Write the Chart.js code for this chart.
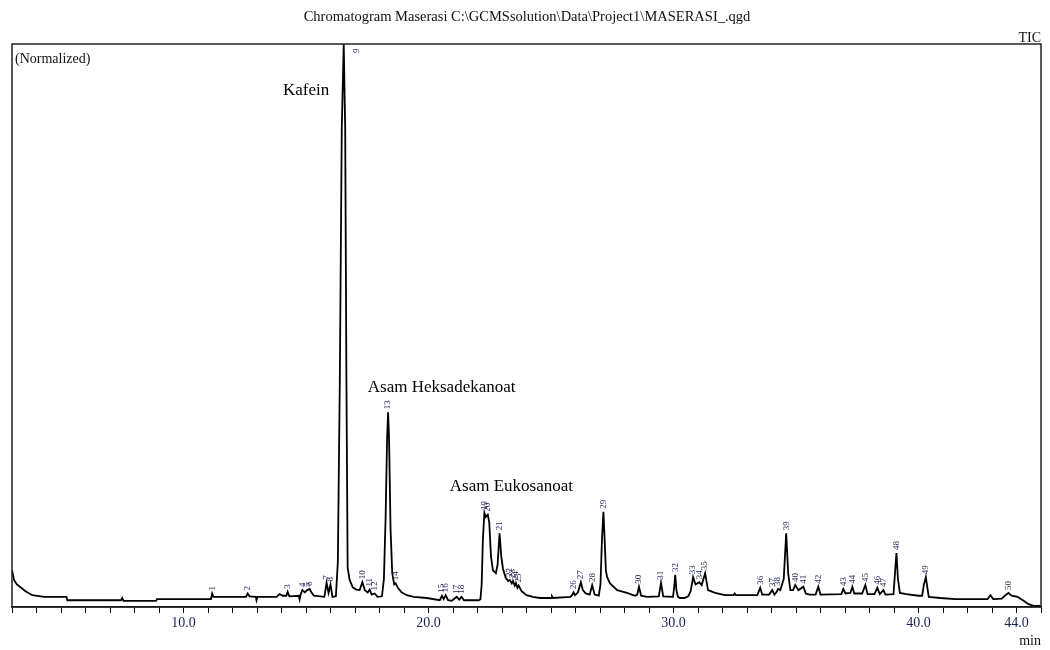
<!DOCTYPE html>
<html>
<head>
<meta charset="utf-8">
<script src="https://cdn.jsdelivr.net/npm/chart.js@4.4.0/dist/chart.umd.min.js"></script>
<style>
  html, body { margin: 0; padding: 0; background: #fff; }
  #wrap { width: 1050px; height: 650px; }
</style>
</head>
<body>
<div id="wrap"><canvas id="tic" width="1050" height="650"></canvas></div>
<script>
// Chromatogram data (retention time in min, normalized intensity in %)
const retentionTime = [
  3.00, 3.08, 3.20, 3.35, 3.55, 3.83, 4.32, 5.22, 5.26, 6.57, 7.45, 7.50, 7.55, 8.88, 8.92,
  11.12, 11.17, 11.22, 12.55, 12.62, 12.70, 12.95, 12.98, 13.02, 13.80, 13.92, 14.05, 14.20,
  14.25, 14.32, 14.70, 14.74, 14.78, 14.85, 14.95, 15.05, 15.15, 15.22, 15.32, 15.75, 15.84,
  15.92, 16.00, 16.08, 16.22, 16.30, 16.38, 16.46, 16.54, 16.60, 16.65, 16.70, 16.78, 16.91,
  17.05, 17.19, 17.30, 17.40, 17.52, 17.60, 17.68, 17.80, 17.92, 18.10, 18.18, 18.25, 18.31,
  18.35, 18.39, 18.45, 18.52, 18.60, 18.66, 18.75, 18.90, 19.11, 19.40, 19.93, 20.46, 20.55,
  20.62, 20.70, 20.80, 20.95, 21.15, 21.25, 21.35, 21.45, 22.05, 22.12, 22.17, 22.22, 22.28,
  22.34, 22.42, 22.48, 22.55, 22.63, 22.75, 22.82, 22.90, 22.97, 23.04, 23.15, 23.25, 23.32,
  23.40, 23.45, 23.52, 23.57, 23.63, 23.68, 23.80, 24.00, 24.26, 24.55, 25.00, 25.04, 25.08,
  25.80, 25.86, 25.92, 25.98, 26.10, 26.22, 26.30, 26.42, 26.58, 26.68, 26.78, 26.95, 27.02,
  27.08, 27.14, 27.19, 27.24, 27.29, 27.41, 27.70, 28.10, 28.43, 28.52, 28.59, 28.68, 28.92,
  29.40, 29.49, 29.58, 29.98, 30.04, 30.07, 30.12, 30.18, 30.27, 30.45, 30.60, 30.70, 30.80,
  30.90, 31.05, 31.15, 31.29, 31.41, 31.70, 32.10, 32.45, 32.50, 32.55, 33.42, 33.54, 33.62,
  33.90, 34.03, 34.12, 34.20, 34.27, 34.36, 34.50, 34.60, 34.68, 34.77, 34.88, 34.97, 35.10,
  35.30, 35.40, 35.55, 35.80, 35.91, 36.00, 36.85, 36.93, 37.02, 37.22, 37.30, 37.38, 37.70,
  37.83, 37.92, 38.20, 38.32, 38.42, 38.57, 38.65, 38.98, 39.04, 39.10, 39.16, 39.24, 39.50,
  40.00, 40.15, 40.22, 40.30, 40.36, 40.42, 40.89, 41.50, 42.82, 42.94, 43.05, 43.40, 43.55,
  43.67, 43.80, 44.04, 44.29, 44.49, 44.70, 45.00
];
const intensity = [
  6.6, 4.8, 4.0, 3.5, 2.8, 2.1, 1.8, 1.8, 1.2, 1.2, 1.2, 1.6, 1.1, 1.1, 1.4,
  1.4, 2.4, 1.8, 1.8, 2.4, 1.9, 1.8, 1.2, 1.8, 1.8, 2.3, 2.0, 2.0,
  2.7, 1.9, 2.0, 1.3, 2.2, 3.0, 2.6, 3.0, 3.2, 2.6, 2.0, 1.8, 4.3,
  2.5, 4.0, 1.8, 1.9, 8.0, 40, 85, 100, 85, 40, 7.0, 4.8, 3.5,
  3.1, 3.0, 4.4, 3.0, 2.6, 3.1, 2.2, 2.4, 1.8, 1.9, 5.0, 16, 30,
  34.6, 30, 14, 6.0, 4.0, 4.2, 3.4, 2.6, 2.1, 1.8, 1.6, 1.2, 2.0,
  1.4, 2.1, 1.2, 1.1, 1.8, 1.3, 1.8, 1.2, 1.2, 1.4, 4.0, 12, 16.7,
  16.0, 16.4, 15.0, 9.0, 6.5, 6.0, 7.5, 13.1, 9.0, 6.8, 5.2, 4.6, 4.8,
  4.2, 4.6, 3.8, 4.2, 3.4, 3.8, 2.8, 2.1, 1.8, 1.6, 1.6, 1.9, 1.6,
  1.8, 2.1, 2.6, 2.1, 2.6, 4.4, 3.0, 2.4, 2.2, 3.9, 2.2, 2.0, 4.0,
  12, 16.9, 12, 6.5, 5.3, 4.2, 3.0, 2.5, 2.0, 2.2, 3.6, 2.0, 1.8,
  1.9, 4.3, 1.9, 1.8, 4.0, 5.7, 3.0, 1.8, 1.6, 1.6, 1.9, 2.8, 5.3,
  4.0, 4.4, 3.9, 6.0, 3.0, 2.5, 2.1, 2.1, 2.4, 2.1, 2.1, 3.4, 2.2,
  2.2, 3.0, 2.2, 2.6, 3.2, 3.0, 5.0, 13.1, 6.0, 3.0, 3.0, 3.9, 3.0,
  3.6, 2.4, 2.2, 2.2, 3.6, 2.2, 2.3, 3.2, 2.4, 2.5, 3.6, 2.4, 2.4,
  3.9, 2.3, 2.3, 3.4, 2.3, 3.0, 2.2, 2.3, 6.0, 9.6, 5.0, 2.5, 2.3,
  2.0, 2.0, 4.0, 5.3, 3.5, 1.8, 1.6, 1.4, 1.4, 2.1, 1.4, 1.5, 2.1,
  2.5, 2.0, 1.8, 1.1, 0.5, 0.2, 0.2
];

// Peak numbers and the retention times they sit on
const peakNumbers = [
  '1', '2', '3', '4', '5', '6', '7', '8', '9', '10', '11', '12', '13', '14', '15', '16', '17',
  '18', '19', '20', '21', '22', '23', '24', '25', '26', '27', '28', '29', '30', '31', '32', '33',
  '34', '35', '36', '37', '38', '39', '40', '41', '42', '43', '44', '45', '46', '47', '48', '49', '50'
];
const peakTimes = [
  11.17, 12.62, 14.25, 14.85, 15.05, 15.15, 15.84, 16.00, 16.54, 17.30, 17.60, 17.80, 18.35,
  18.66, 20.55, 20.70, 21.15, 21.35, 22.28, 22.42, 22.90, 23.32, 23.45, 23.57, 23.68, 25.92,
  26.22, 26.68, 27.14, 28.59, 29.49, 30.07, 30.80, 31.05, 31.29, 33.54, 34.03, 34.27, 34.60,
  34.97, 35.30, 35.91, 36.93, 37.30, 37.83, 38.32, 38.57, 39.10, 40.30, 43.67
];

// Named compounds
const compoundNames = ['Kafein', 'Asam Heksadekanoat', 'Asam Eukosanoat'];
const compoundTimes = [15.95, 17.52, 20.87];
const compoundLevels = [91, 38.2, 20.6];

const labeledTicks = [10, 20, 30, 40, 44];
const chartTitle = 'Chromatogram Maserasi C:\\GCMSsolution\\Data\\Project1\\MASERASI_.qgd';

const serif = '"Liberation Serif", "Times New Roman", serif';

// Draws frame, header texts, peak numbers and compound names
const decorPlugin = {
  id: 'decor',
  afterDraw(chart) {
    const { ctx, chartArea: a, scales: { x, y } } = chart;
    ctx.save();

    ctx.strokeStyle = '#222';
    ctx.lineWidth = 1.5;
    ctx.strokeRect(a.left, a.top, a.right - a.left, a.bottom - a.top);

    ctx.fillStyle = '#111';
    ctx.font = '14.5px ' + serif;
    ctx.textBaseline = 'alphabetic';
    ctx.textAlign = 'center';
    ctx.fillText(chartTitle, 527, 21);
    ctx.textAlign = 'right';
    ctx.font = '14px ' + serif;
    ctx.fillText('TIC', a.right, a.top - 2);
    ctx.textAlign = 'left';
    ctx.fillText('(Normalized)', a.left + 3, a.top + 19);

    // compound names
    ctx.font = '17px ' + serif;
    ctx.fillStyle = '#000';
    compoundNames.forEach((name, i) => {
      ctx.textAlign = i === 0 ? 'right' : 'left';
      ctx.fillText(name, x.getPixelForValue(compoundTimes[i]), y.getPixelForValue(compoundLevels[i]));
    });

    // peak numbers, rotated
    ctx.beginPath();
    ctx.rect(a.left, a.top, a.right - a.left, a.bottom - a.top);
    ctx.clip();
    ctx.font = '9px ' + serif;
    ctx.fillStyle = '#1c2357';
    ctx.textBaseline = 'middle';
    peakTimes.forEach((t, i) => {
      let best = 0;
      retentionTime.forEach((rt, j) => {
        if (Math.abs(rt - t) < Math.abs(retentionTime[best] - t)) best = j;
      });
      let px = x.getPixelForValue(t);
      let py = y.getPixelForValue(intensity[best]) - 3;
      if (py < a.top + 12) {
        px += 13;
        py = a.top + 9;
      }
      ctx.save();
      ctx.translate(px, py);
      ctx.rotate(-Math.PI / 2);
      ctx.textAlign = 'left';
      ctx.fillText(peakNumbers[i], 0, 0);
      ctx.restore();
    });

    ctx.restore();
  }
};

const ctx = document.getElementById('tic').getContext('2d');
new Chart(ctx, {
  type: 'line',
  data: {
    datasets: [{
      label: 'TIC',
      data: retentionTime.map((t, i) => ({ x: t, y: intensity[i] })),
      borderColor: '#000',
      borderWidth: 1.8,
      pointRadius: 0,
      tension: 0,
      fill: false
    }]
  },
  options: {
    responsive: false,
    animation: false,
    devicePixelRatio: 1,
    layout: { padding: { left: 12, right: 9, top: 44, bottom: 0 } },
    plugins: {
      legend: { display: false },
      tooltip: { enabled: false }
    },
    scales: {
      x: {
        type: 'linear',
        min: 3,
        max: 45,
        afterFit(scale) { scale.height = 43; },
        grid: { drawOnChartArea: false, drawTicks: true, tickLength: 6, color: '#000', lineWidth: 1 },
        border: { display: true, color: '#000', width: 1.5 },
        ticks: {
          stepSize: 1,
          autoSkip: false,
          maxRotation: 0,
          padding: 2,
          color: '#1b2150',
          font: { family: serif, size: 14 },
          callback: v => labeledTicks.includes(v) ? v.toFixed(1) : ''
        },
        title: {
          display: true,
          text: 'min',
          align: 'end',
          color: '#111',
          padding: { top: 0, bottom: 0 },
          font: { family: serif, size: 14 }
        }
      },
      y: {
        display: false,
        min: 0,
        max: 100
      }
    }
  },
  plugins: [decorPlugin]
});
</script>
</body>
</html>
